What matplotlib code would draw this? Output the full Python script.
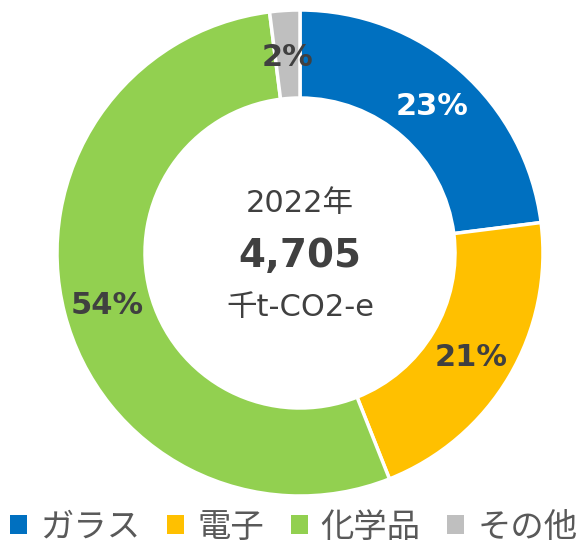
import matplotlib.pyplot as plt
import numpy as np
from matplotlib.patches import Patch

plt.rcParams['font.family'] = ['DejaVu Sans', 'Noto Sans CJK JP']

labels = ['ガラス', '電子', '化学品', 'その他']
shares = [23, 21, 54, 2]
colours = ['#0070C0', '#FFC000', '#92D050', '#BFBFBF']
label_colours = ['white', '#404040', '#404040', '#404040']
year_text = '2022年'
total_text = '4,705'
unit_text = '千t-CO2-e'

W, H = 583, 546
fig = plt.figure(figsize=(W / 100, H / 100), dpi=100)
ax = fig.add_axes([0, 0, 1, 1])

cx, cy = 300, H - 253
R = 243
ring = 88

ax.pie(shares, colors=colours, startangle=90, counterclock=False,
       center=(cx, cy), radius=R,
       wedgeprops=dict(width=ring, edgecolor='white', linewidth=2.5))
ax.set_xlim(0, W)
ax.set_ylim(0, H)
ax.set_aspect('equal')
ax.axis('off')

# percentage labels in the middle of the ring
start = 90.0
for s, col in zip(shares, label_colours):
    mid = start - s / 100 * 360 / 2
    start -= s / 100 * 360
    r = R - ring / 2
    x = cx + r * np.cos(np.radians(mid))
    y = cy + r * np.sin(np.radians(mid)) - 3
    ax.text(x, y, f'{s}%', ha='center', va='center', fontsize=22,
            fontweight='bold', color=col)

ax.text(cx, H - 204, year_text, ha='center', va='center', fontsize=22, color='#404040')
ax.text(cx, H - 256, total_text, ha='center', va='center', fontsize=28,
        fontweight='bold', color='#404040')
ax.text(cx, H - 307, unit_text, ha='center', va='center', fontsize=22, color='#404040')

handles = [Patch(facecolor=c, edgecolor='none') for c in colours]
fig.legend(handles, labels, loc='center', bbox_to_anchor=(294 / W, 19 / H),
           ncol=4, frameon=False, fontsize=24, handlelength=0.51,
           handleheight=0.51, handletextpad=0.39, columnspacing=0.8,
           labelcolor='#595959', borderpad=0, borderaxespad=0)

fig.savefig('out.png', dpi=100)
